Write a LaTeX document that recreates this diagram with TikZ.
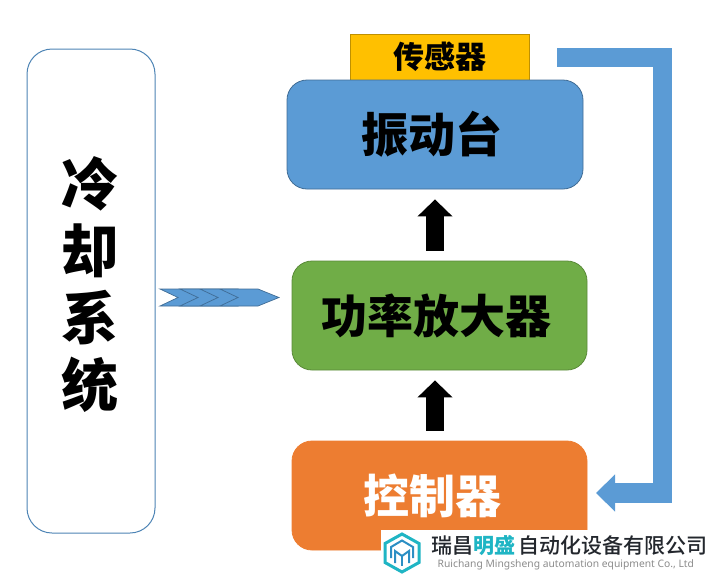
\documentclass[tikz,border=0pt]{standalone}
\usepackage{fontspec}
\usetikzlibrary{arrows.meta}
\newfontfamily\cjkb{Noto Sans CJK SC}[UprightFont=* Black]
\newfontfamily\cjkm{Noto Sans CJK SC}[UprightFont=* Medium]
\setmainfont{Noto Sans}
\definecolor{cblue}{HTML}{5B9BD5}
\definecolor{cgreen}{HTML}{70AD47}
\definecolor{corange}{HTML}{ED7D31}
\definecolor{cyellow}{HTML}{FFC000}
\definecolor{lteal}{HTML}{1FB5C4}
\definecolor{lblue}{HTML}{2C8FC4}
\definecolor{ldark}{HTML}{23272D}
\tikzset{
  panel/.style={rounded corners=20pt,minimum width=#1,minimum height=109pt,inner sep=0pt,line width=.8pt},
  bigarrow/.style={line width=18pt,black,-{Triangle[length=17pt,width=34pt]},shorten <=10pt,shorten >=10pt},
  feedback/.style={line width=19.5pt,cblue,line join=miter,-{Triangle[length=19pt,width=36pt]},shorten >=9pt},
  chev/.style={fill=cblue,draw=cblue!70!black,line width=.7pt},
  logoline/.style={draw=lblue,line width=2pt,line join=miter}
}
\begin{document}
\begin{tikzpicture}[x=1pt,y=-1pt]
\useasboundingbox (0,0) rectangle (710,576);
% left panel
\node[draw=cblue!85!black,fill=white,rounded corners=25pt,minimum width=128pt,minimum height=484pt,inner sep=0pt,line width=1pt] (cool) at (91,291) {};
\node[align=center,inner sep=0pt,font=\cjkb\fontsize{57}{67}\selectfont] (cooltext) at (89.5,285) {冷\\却\\系\\统};
% sensor + boxes
\node[fill=cyellow,draw=cyellow!75!black,line width=.6pt,minimum width=179pt,minimum height=46pt,inner sep=0pt,
  font=\cjkb\fontsize{31}{31}\selectfont] (sensor) at (439.5,57) {传感器};
\node[panel=296pt,fill=cblue,draw=cblue!70!black,font=\cjkb\fontsize{47}{47}\selectfont] (table) at (435,134.5) {振动台\hspace*{7pt}};
\node[panel=295pt,fill=cgreen,draw=cgreen!80!black,font=\cjkb\fontsize{46}{46}\selectfont] (amp) at (439.5,315.5) {功率放大器\hspace*{7pt}};
\node[panel=295pt,fill=corange,draw=corange,text=white,font=\cjkb\fontsize{46}{46}\selectfont] (ctrl) at (439.5,495.5) {控制器\hspace*{15pt}};
% black arrows
\draw[bigarrow] (table.south |- amp.north) -- (table.south);
\draw[bigarrow] (table.south |- ctrl.north) -- (table.south |- amp.south);
% feedback
\coordinate (fbend) at (587,493);
\draw[feedback] (557,57.5) -- (662.5,57.5) -- (662.5,493) -- (fbend);
% chevrons
\foreach \dx in {0,20,40,60}{
  \path[chev] (160+\dx,289) -- (198+\dx,289) -- (219+\dx,297.5) -- (198+\dx,306) -- (160+\dx,306) -- (178+\dx,297.5) -- cycle;
}
% logo
\fill[white] (381,530) rectangle (710,576);
\draw[line width=3pt,lteal,line join=miter] (402,534) -- (419,543.5) -- (419,562.5) -- (402,572) -- (385,562.5) -- (385,543.5) -- cycle;
\draw[logoline] (391,558) -- (391,547) -- (402,540.5) -- (413,547) -- (413,558);
\draw[logoline] (395,563) -- (395,551) -- (402,556) -- (409,551) -- (409,563);
\draw[logoline] (402,556) -- (402,566);
\node[anchor=west,inner sep=0pt,font=\cjkm\fontsize{21}{21}\selectfont,text=ldark] (brand) at (431,546)
  {瑞昌{\cjkb\color{lteal}明盛}\hspace{3pt}自动化设备有限公司};
\node[anchor=west,inner sep=0pt,font=\fontsize{10.3}{12}\selectfont,text=black!45] (brandsub) at (437.5,565)
  {Ruichang Mingsheng automation equipment Co., Ltd};
\end{tikzpicture}
\end{document}
